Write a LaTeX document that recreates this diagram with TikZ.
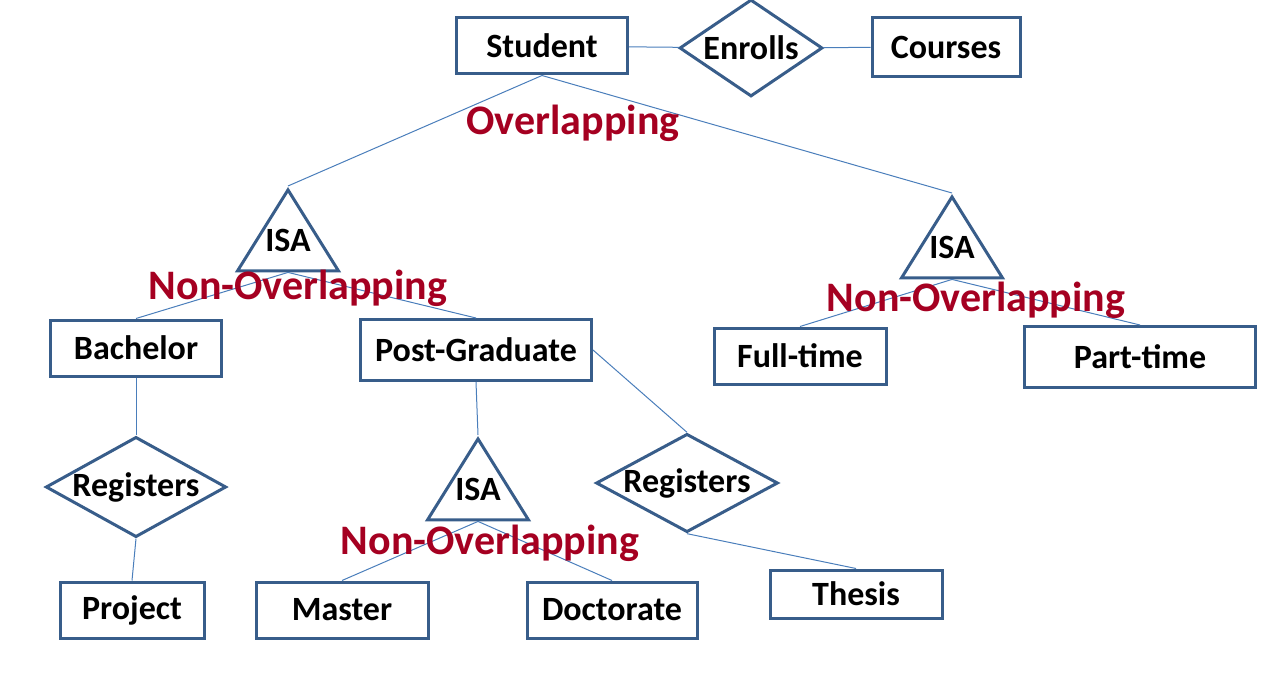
\documentclass[tikz,border=0pt]{standalone}
\usepackage{fontspec}
\setmainfont{Carlito}
\usetikzlibrary{shapes.geometric}
\definecolor{boxc}{RGB}{56,93,138}
\definecolor{linec}{RGB}{74,126,187}
\definecolor{redc}{RGB}{165,0,33}
\newcommand{\isatxt}{\raisebox{2pt}[0pt][0pt]{ISA}}

\begin{document}
\begin{tikzpicture}[x=0.5pt, y=-0.5pt,
  ent/.style={draw=boxc, line width=1.5pt, minimum height=28pt, inner sep=0pt, font=\fontsize{17}{20}\selectfont\bfseries},
  rel/.style={diamond, draw=boxc, line width=1.5pt, inner sep=0pt, font=\fontsize{17}{20}\selectfont\bfseries},
  isa/.style={isosceles triangle, shape border rotate=90, isosceles triangle stretches, minimum width=50.5pt, minimum height=40.5pt, draw=boxc, line width=1.5pt, inner sep=0pt, font=\fontsize{17}{20}\selectfont\bfseries},
  lbl/.style={text=redc, inner sep=0pt, font=\fontsize{21}{24}\selectfont\bfseries},
  conn/.style={draw=linec, line width=0.5pt}]
\useasboundingbox (0,0) rectangle (1263,674);

% top row
\node[ent, minimum width=85.5pt] (stu) at (542,46) {Student};
\node[rel, aspect=1.5, minimum width=71.5pt, minimum height=48.5pt] (enr) at (751,48) {Enrolls};
\node[ent, minimum width=74pt, minimum height=29.5pt] (crs) at (946,47) {Courses};

% isa nodes
\node[isa, anchor=apex] (isaA) at (288,186) {\isatxt};
\node[isa, anchor=apex] (isaB) at (952,193) {\isatxt};
\node[isa, anchor=apex] (isaC) at (478,435) {\isatxt};

% subclasses
\node[ent, minimum width=85.5pt] (bach) at (136,348) {Bachelor};
\node[ent, minimum width=115.5pt, minimum height=30.5pt] (pg) at (476,350) {Post-Graduate};
\node[ent, minimum width=86pt] (full) at (800,356) {Full-time};
\node[ent, minimum width=115.5pt, minimum height=30.5pt] (part) at (1140,357) {Part-time};

\node[rel, aspect=1.8, minimum width=86pt, minimum height=48.5pt] (regA) at (136,487) {Registers};
\node[rel, aspect=1.85, minimum width=88pt, minimum height=48pt] (regB) at (687,483) {Registers};

\node[ent, minimum width=72pt] (proj) at (132,610) {Project};
\node[ent, minimum width=86pt] (mast) at (342,610) {Master};
\node[ent, minimum width=85pt] (doct) at (612,610) {Doctorate};
\node[ent, minimum width=86pt, minimum height=24pt] (thes) at (856,594) {Thesis};

\draw[conn] (stu) -- (enr);
\draw[conn] (enr) -- (crs);
\draw[conn] (stu.south) -- (isaA.apex);
\draw[conn] (stu.south) -- (isaB.apex);

\draw[conn] (isaA.lower side) -- (bach.north);
\draw[conn] (isaA.lower side) -- (pg.north);
\draw[conn] (isaB.lower side) -- (full.north);
\draw[conn] (isaB.lower side) -- (part.north);

\draw[conn] (bach.south) -- (regA.north);
\draw[conn] (regA.south) -- (proj.north);
\draw[conn] (pg.south) -- (isaC.apex);
\draw[conn] (isaC.lower side) -- (mast.north);
\draw[conn] (isaC.lower side) -- (doct.north);
\draw[conn] (pg.east) -- (regB.north);
\draw[conn] (regB.south) -- (thes.north);

% constraint labels
\node[lbl] (ovl) at (573,123) {Overlapping};
\node[lbl] (novA) at (298,288) {Non-Overlapping};
\node[lbl] (novB) at (976,300) {Non-Overlapping};
\node[lbl] (novC) at (490,543) {Non-Overlapping};

\end{tikzpicture}
\end{document}
